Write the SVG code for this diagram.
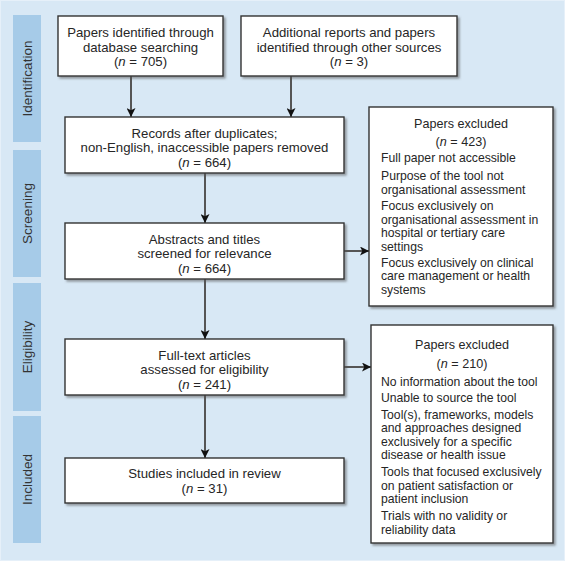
<svg xmlns="http://www.w3.org/2000/svg" width="565" height="561" viewBox="0 0 565 561">
<style>
  text { font-family: "Liberation Sans", Arial, sans-serif; fill: #262626; }
  .m { font-size: 13.2px; text-anchor: middle; }
  .h { font-size: 12.6px; text-anchor: middle; }
  .l { font-size: 12.2px; }
  .side { font-size: 13.5px; text-anchor: middle; fill: #333; }
  .box { fill: #fff; stroke: #333; stroke-width: 1.4; filter: url(#sh); }
  .bar { fill: #a6cbe8; }
  .conn { stroke: #555; stroke-width: 2; fill: none; marker-end: url(#ah); }
</style>
<defs>
  <filter id="sh" x="-10%" y="-10%" width="120%" height="130%">
    <feDropShadow dx="2" dy="2" stdDeviation="1.2" flood-color="#555" flood-opacity="0.55"/>
  </filter>
  <marker id="ah" viewBox="0 0 10 10" refX="10" refY="5" markerWidth="4.5" markerHeight="4.5" orient="auto" markerUnits="strokeWidth">
    <path d="M0,0 L10,5 L0,10 L2.5,5 z" fill="#111"/>
  </marker>
</defs>
<rect x="0" y="0" width="565" height="561" fill="#d8e8f5"/>
<rect x="0.5" y="0.5" width="564" height="560" fill="none" stroke="#e6f0f9" stroke-width="1"/>

<g id="phases">
  <rect class="bar" x="13" y="15" width="28" height="127"/>
  <text class="side" transform="translate(32,78.5) rotate(-90)">Identification</text>
  <rect class="bar" x="13" y="150" width="28" height="127"/>
  <text class="side" transform="translate(32,213.5) rotate(-90)">Screening</text>
  <rect class="bar" x="13" y="283" width="28" height="128"/>
  <text class="side" transform="translate(32,347) rotate(-90)">Eligibility</text>
  <rect class="bar" x="13" y="416" width="28" height="127"/>
  <text class="side" transform="translate(32,479.5) rotate(-90)">Included</text>
</g>

<g id="connectors">
  <line class="conn" x1="131" y1="76" x2="131" y2="117"/>
  <line class="conn" x1="291" y1="76" x2="291" y2="117"/>
  <line class="conn" x1="205" y1="173" x2="205" y2="223"/>
  <line class="conn" x1="344" y1="251" x2="369" y2="251"/>
  <line class="conn" x1="205" y1="279" x2="205" y2="339"/>
  <line class="conn" x1="344" y1="367" x2="371" y2="367"/>
  <line class="conn" x1="205" y1="395" x2="205" y2="458"/>
</g>

<g id="identified-db">
  <rect class="box" x="58" y="16" width="165" height="60"/>
  <text class="m" x="140.5" y="37">Papers identified through</text>
  <text class="m" x="140.5" y="51.5">database searching</text>
  <text class="m" x="140.5" y="66">(<tspan font-style="italic">n</tspan> = 705)</text>
</g>

<g id="identified-other">
  <rect class="box" x="241" y="16" width="216" height="60"/>
  <text class="m" x="349" y="37">Additional reports and papers</text>
  <text class="m" x="349" y="51.5">identified through other sources</text>
  <text class="m" x="349" y="66">(<tspan font-style="italic">n</tspan> = 3)</text>
</g>

<g id="records">
  <rect class="box" x="65" y="117" width="279" height="56"/>
  <text class="m" x="204.5" y="137.5">Records after duplicates;</text>
  <text class="m" x="204.5" y="152">non-English, inaccessible papers removed</text>
  <text class="m" x="204.5" y="166.5">(<tspan font-style="italic">n</tspan> = 664)</text>
</g>

<g id="excluded-1">
  <rect class="box" x="369" y="107" width="184" height="199"/>
  <text class="h" x="461" y="128">Papers excluded</text>
  <text class="h" x="461" y="146">(<tspan font-style="italic">n</tspan> = 423)</text>
  <text class="l" x="381" y="162">Full paper not accessible</text>
  <text class="l" x="381" y="180">Purpose of the tool not</text>
  <text class="l" x="381" y="193.5">organisational assessment</text>
  <text class="l" x="381" y="210">Focus exclusively on</text>
  <text class="l" x="381" y="223.5">organisational assessment in</text>
  <text class="l" x="381" y="237">hospital or tertiary care</text>
  <text class="l" x="381" y="250.5">settings</text>
  <text class="l" x="381" y="266.5">Focus exclusively on clinical</text>
  <text class="l" x="381" y="280">care management or health</text>
  <text class="l" x="381" y="293.5">systems</text>
</g>

<g id="abstracts">
  <rect class="box" x="65" y="223" width="279" height="56"/>
  <text class="m" x="204.5" y="243.5">Abstracts and titles</text>
  <text class="m" x="204.5" y="258">screened for relevance</text>
  <text class="m" x="204.5" y="272.5">(<tspan font-style="italic">n</tspan> = 664)</text>
</g>

<g id="fulltext">
  <rect class="box" x="65" y="339" width="279" height="56"/>
  <text class="m" x="204.5" y="359.5">Full-text articles</text>
  <text class="m" x="204.5" y="374">assessed for eligibility</text>
  <text class="m" x="204.5" y="388.5">(<tspan font-style="italic">n</tspan> = 241)</text>
</g>

<g id="excluded-2">
  <rect class="box" x="371" y="325" width="182" height="218"/>
  <text class="h" x="462" y="349">Papers excluded</text>
  <text class="h" x="462" y="367.5">(<tspan font-style="italic">n</tspan> = 210)</text>
  <text class="l" x="381" y="385.5">No information about the tool</text>
  <text class="l" x="381" y="402">Unable to source the tool</text>
  <text class="l" x="381" y="418.5">Tool(s), frameworks, models</text>
  <text class="l" x="381" y="432">and approaches designed</text>
  <text class="l" x="381" y="445.5">exclusively for a specific</text>
  <text class="l" x="381" y="459">disease or health issue</text>
  <text class="l" x="381" y="476">Tools that focused exclusively</text>
  <text class="l" x="381" y="489.5">on patient satisfaction or</text>
  <text class="l" x="381" y="503">patient inclusion</text>
  <text class="l" x="381" y="520">Trials with no validity or</text>
  <text class="l" x="381" y="533.5">reliability data</text>
</g>

<g id="included">
  <rect class="box" x="65" y="458" width="279" height="45"/>
  <text class="m" x="204.5" y="478">Studies included in review</text>
  <text class="m" x="204.5" y="492.5">(<tspan font-style="italic">n</tspan> = 31)</text>
</g>
</svg>
